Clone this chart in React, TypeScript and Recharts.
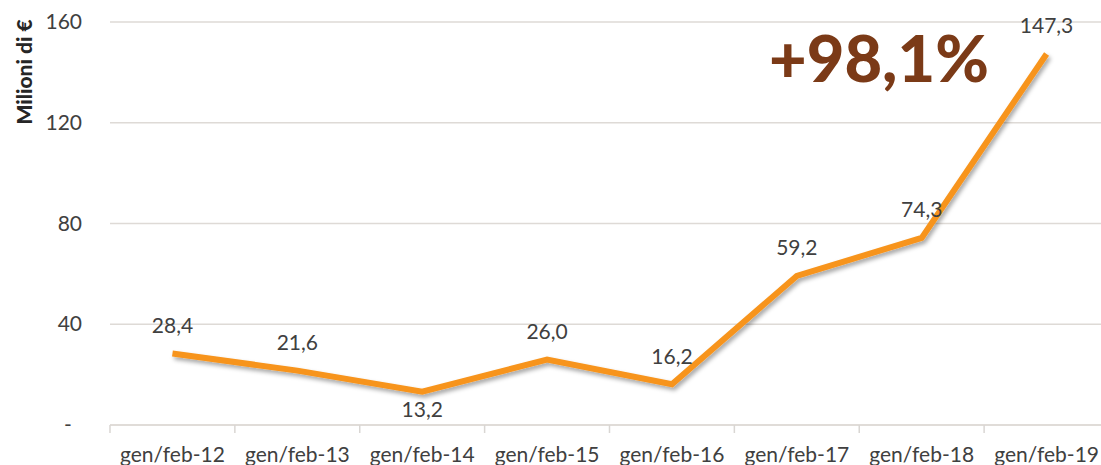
import { CartesianGrid, LabelList, Line, LineChart, XAxis, YAxis } from "recharts";

const periods = ["gen/feb-12", "gen/feb-13", "gen/feb-14", "gen/feb-15", "gen/feb-16", "gen/feb-17", "gen/feb-18", "gen/feb-19"];
const revenue = [28.4, 21.6, 13.2, 26.0, 16.2, 59.2, 74.3, 147.3];
const yTicks = [0, 40, 80, 120, 160];
const labelsBelow = [2];
const growth = "+98,1%";
const yTitle = "Milioni di €";

const data = periods.map((p, i) => ({ period: p, value: revenue[i] }));

const FONT = "Lato, 'Open Sans', sans-serif";
const TEXT = "#404040";
const BAND = 124.9;

const fmt = (v: number) => v.toFixed(1).replace(".", ",");

function XTick(props: any) {
  const { x, y, payload } = props;
  return (
    <g>
      <line x1={x - BAND / 2} x2={x - BAND / 2} y1={y - 8} y2={y} stroke="#d9d6d3" strokeWidth={1.5} />
      <text x={x} y={y + 29} textAnchor="middle" fill={TEXT} fontSize={21} fontFamily={FONT}>
        {payload.value}
      </text>
    </g>
  );
}

function YTick(props: any) {
  const { y, payload } = props;
  if (payload.value === 0) {
    return (
      <text x={68} y={y} dy={7} textAnchor="middle" fill={TEXT} fontSize={21} fontFamily={FONT}>
        -
      </text>
    );
  }
  return (
    <text x={82} y={y} dy={7} textAnchor="end" fill={TEXT} fontSize={21} fontFamily={FONT}>
      {payload.value}
    </text>
  );
}

function PointLabel(props: any) {
  const { x, y, value, index } = props;
  const below = labelsBelow.includes(index);
  return (
    <text
      x={x}
      y={below ? y + 17 : y - 29}
      dominantBaseline="central"
      textAnchor="middle"
      fill={TEXT}
      fontSize={21}
      fontFamily={FONT}
    >
      {fmt(value)}
    </text>
  );
}

export default function App() {
  return (
    <div style={{ position: "absolute", left: 0, top: 0, width: 1101, height: 465, overflow: "hidden", background: "#fff" }}>
      <LineChart width={1110} height={465} data={data} margin={{ top: 22, right: 1, bottom: 0, left: 0 }}>
        <defs>
          <filter id="lineShadow" x="-5%" y="-5%" width="110%" height="120%">
            <feDropShadow dx="2" dy="3" stdDeviation="2" floodColor="#000" floodOpacity="0.35" />
          </filter>
        </defs>
        <CartesianGrid vertical={false} stroke="#dedad6" strokeWidth={1.5} />
        <XAxis
          dataKey="period"
          scale="band"
          height={40}
          axisLine={{ stroke: "#dedad6", strokeWidth: 1.5 }}
          tickLine={false}
          tick={<XTick />}
          interval={0}
        />
        <YAxis
          domain={[0, 160]}
          ticks={yTicks}
          width={110}
          axisLine={false}
          tickLine={false}
          tick={<YTick />}
          label={{
            content: () => (
              <text
                x={0}
                y={0}
                transform="translate(32,72) rotate(-90)"
                textAnchor="middle"
                fill="#262626"
                fontSize={21}
                fontWeight={900}
                fontFamily={FONT}
              >
                {yTitle}
              </text>
            ),
          }}
        />
        <Line
          type="linear"
          dataKey="value"
          stroke="#f7941d"
          strokeWidth={6}
          dot={false}
          activeDot={false}
          isAnimationActive={false}
          style={{ filter: "url(#lineShadow)" }}
        >
          <LabelList dataKey="value" content={<PointLabel />} />
        </Line>
      </LineChart>
      <div
        style={{
          position: "absolute",
          left: 769,
          top: 25,
          fontFamily: FONT,
          fontWeight: 900,
          fontSize: 65,
          color: "#7b3a17",
          lineHeight: 1,
        }}
      >
        {growth}
      </div>
    </div>
  );
}
